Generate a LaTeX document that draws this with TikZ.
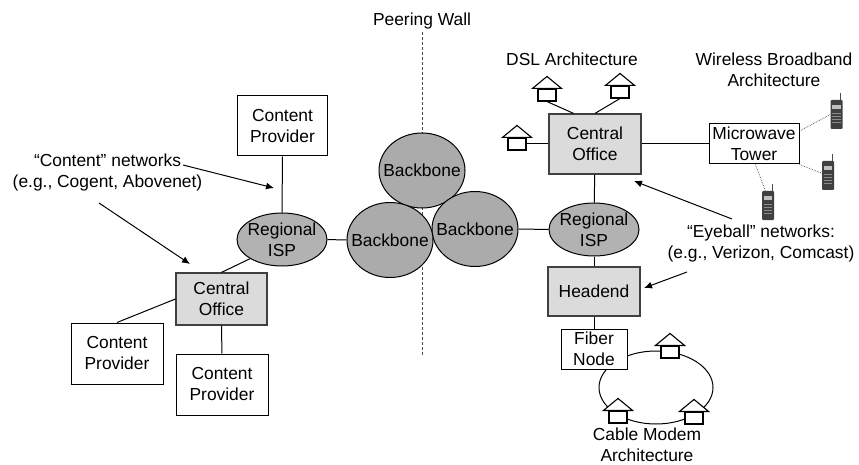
\documentclass[tikz,border=0pt]{standalone}
\usepackage{fontspec}
\setmainfont{Liberation Sans}
\usetikzlibrary{arrows.meta,shapes.geometric}

\newcommand{\house}[2]{
	\node[housebox] (#1) at (#2) {};
	\filldraw[fill=white, line width=1.1pt] ([xshift=-5pt]#1.north west) -- ([yshift=12pt]#1.north) -- ([xshift=5pt]#1.north east) -- cycle;
}
\newcommand{\phone}[2]{
	\node[handset] (#1) at (#2) {};
	\draw[line width=0.9pt, black!70] ([xshift=-2pt]#1.north east) -- ([xshift=-2pt,yshift=7pt]#1.north east);
	\fill[black!25] ([xshift=2pt,yshift=-5pt]#1.north west) rectangle ([xshift=-2pt,yshift=-9pt]#1.north east);
	\foreach \k in {0,1,2,3} {
		\draw[black!45, line width=0.8pt] ([xshift=2pt,yshift={-14pt-3*\k*1pt}]#1.north west) -- ([xshift=-2pt,yshift={-14pt-3*\k*1pt}]#1.north east);
	}
}

\begin{document}
\begin{tikzpicture}[
		x=1pt, y=-1pt,
		every node/.style = {font=\fontsize{17.4}{21}\selectfont, align=center, inner sep=0pt},
		plainbox/.style = {draw, fill=white, line width=1pt},
		office/.style = {draw=black!75, fill=black!14, line width=1.2pt},
		isp/.style = {draw, ellipse, fill=black!30, minimum width=90pt, minimum height=53pt, line width=1pt},
		backbone/.style = {draw, ellipse, fill=black!33, minimum width=86pt, minimum height=75pt, line width=1pt, label=center:Backbone},
		housebox/.style = {draw, fill=white, minimum width=18pt, minimum height=12pt, line width=1.1pt},
		handset/.style = {fill=black!75, minimum width=12pt, minimum height=29pt, rounded corners=1pt},
		link/.style = {line width=1pt},
		radio/.style = {densely dotted, line width=0.7pt, black!70},
		pointer/.style = {-{Latex[length=8pt,width=7pt]}, line width=1pt}
	]
	\useasboundingbox (0,0) rectangle (859,465);

	% wall goes first, the backbones sit on it
	\node (wall) at (422,21) {Peering Wall};
	\coordinate (wallend) at (422,357);
	\draw[dash pattern=on 3pt off 2pt, line width=1pt, black!70] ([yshift=-3pt]wall.south) -- (wallend);

	\node[backbone] (bb1) at (422,170.5) {};
	\node[backbone] (bb3) at (475,229) {};
	\node[backbone] (bb2) at (390,240) {};

	% left side
	\node[isp, label={center:Regional\\ISP}] (isp1) at (282,239.5) {};
	\node[plainbox, minimum width=90pt, minimum height=60pt] (cp1) at (282.5,126) {Content\\Provider};
	\node[office, minimum width=91pt, minimum height=52pt] (co1) at (221.5,299) {Central\\Office};
	\node[plainbox, minimum width=92pt, minimum height=61pt] (cp2) at (117,353.5) {Content\\Provider};
	\node[plainbox, minimum width=92pt, minimum height=61pt] (cp3) at (222,384.5) {Content\\Provider};
	\draw[link] (cp1) -- (isp1);
	\draw[link] (isp1) -- (bb2);
	\draw[link] (isp1.211) -- (co1.north);
	\draw[link] (co1.west) -- (cp2.north);
	\draw[link] (co1) -- (cp3);

	% right side
	\node[isp, label={center:Regional\\ISP}] (isp2) at (594,229.5) {};
	\node[office, minimum width=92pt, minimum height=60pt] (co2) at (595,144) {Central\\Office};
	\node[office, minimum width=92pt, minimum height=49pt] (head) at (594,291.5) {Headend};
	\node[plainbox, minimum width=90pt, minimum height=40pt] (tower) at (754,144) {Microwave\\Tower};
	\draw[link] (bb3) -- (isp2);
	\draw[link] (isp2) -- (co2);
	\draw[link] (isp2) -- (head);
	\draw[link] (co2) -- (tower);

	% ring under the fiber node and its houses
	\node[draw, ellipse, minimum width=114pt, minimum height=73pt, line width=1pt] (ring) at (656,387.5) {};
	\node[plainbox, minimum width=66pt, minimum height=40pt] (fiber) at (594,349) {Fiber\\Node};
	\draw[link] (head) -- (fiber);
	\house{hc1}{670,352}
	\house{hc2}{618,417}
	\house{hc3}{694,418}

	\house{hd1}{547,95}
	\house{hd2}{620,92}
	\house{hd3}{517,144}
	\draw[link] (hd1.south) -- (co2.125);
	\draw[link] (hd2.south) -- (co2.north);
	\draw[link] (hd3) -- (co2);

	\phone{ph1}{836.5,114.5}
	\phone{ph2}{828,175.5}
	\phone{ph3}{768,205.5}
	\draw[radio] (tower.16) -- (ph1.west);
	\draw[radio] (tower.south east) -- (ph2.160);
	\draw[radio] (tower.274) -- (ph3.100);

	% labels
	\node (dsl) at (572,59) {DSL Architecture};
	\node (wireless) at (774,69.5) {Wireless Broadband\\Architecture};
	\node (cable) at (647,445) {Cable Modem\\Architecture};
	\node (contentnet) at (107.5,173) {``Content'' networks\\(e.g., Cogent, Abovenet)};
	\node (eyeball) at (761,243.5) {``Eyeball'' networks:\\(e.g., Verizon, Comcast)};

	\coordinate (c1) at (183,165);
	\coordinate (c2) at (274,188);
	\coordinate (c3) at (99,203);
	\coordinate (c4) at (190,264);
	\coordinate (e1) at (732,219);
	\coordinate (e2) at (634,181);
	\coordinate (e3) at (687,272);
	\coordinate (e4) at (644,288);
	\draw[pointer] (c1) -- (c2);
	\draw[pointer] (c3) -- (c4);
	\draw[pointer] (e1) -- (e2);
	\draw[pointer] (e3) -- (e4);
\end{tikzpicture}
\end{document}
